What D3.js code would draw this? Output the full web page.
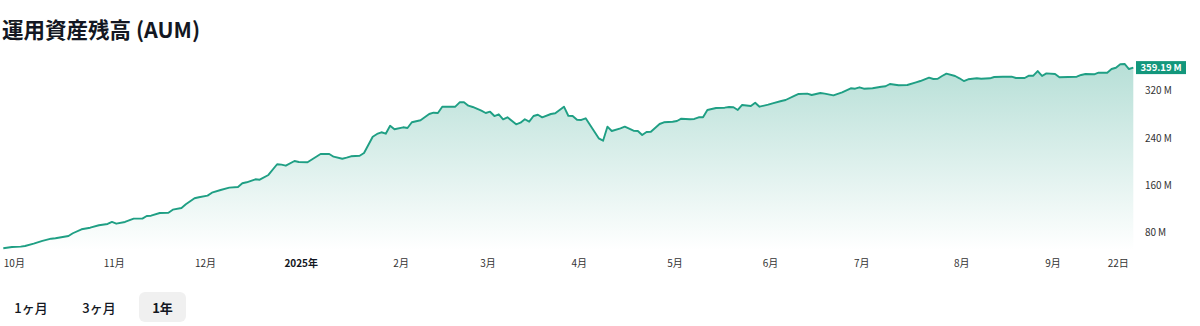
<!DOCTYPE html>
<html>
<head>
<meta charset="utf-8">
<script src="https://cdn.jsdelivr.net/npm/d3@7"></script>
<style>
  body { margin: 0; background: #fff; }
  svg { display: block; font-family: "Noto Sans CJK JP", "Noto Sans", sans-serif; }
</style>
</head>
<body>
<svg id="chart" width="1200" height="326"></svg>
<script>
// trading-day index (weekdays from 2024-09-26) and AUM in millions
const dayIndex = [0,2,4,5,7,9,11,12,15,16,18,20,22,24,25,26,28,30,32,33,34,36,38,39,41,42,44,45,47,48,50,52,54,55,56,58,59,61,63,64,65,67,68,70,72,73,75,76,78,79,80,82,83,85,86,87,88,89,90,92,93,94,96,98,99,100,101,104,105,106,107,108,110,111,112,113,114,115,116,118,119,120,121,122,123,124,126,127,129,130,131,132,133,134,137,138,139,140,142,143,145,146,147,148,149,151,152,154,155,156,158,159,160,161,162,164,166,167,168,169,170,172,173,174,176,177,179,180,182,183,185,186,188,189,191,193,194,195,196,197,198,200,202,203,204,206,208,210,211,213,214,215,216,217,219,220,221,222,224,225,227,228,230,232,233,235,236,237,238,239,240,242,243,245,247,248,249,251,252,254,255,256,257,258,259,260];
const aumM = [53.6,55.8,56.3,57.5,61.4,66.0,69.8,70.5,74.4,79.0,85.7,88.4,92.5,94.7,98.1,95.2,98.1,103.7,103.7,108.2,108.7,113.3,113.8,118.9,121.8,128.0,138.2,139.9,142.6,147.6,152.2,156.1,157.3,163.5,165.2,170.3,169.6,177.6,195.7,195.0,193.3,201.2,199.6,199.1,208.5,213.1,213.1,208.5,205.1,206.8,209.2,210.2,214.8,242.3,246.9,249.8,247.4,260.9,254.9,258.2,257.0,266.7,270.1,280.7,282.9,282.4,293.1,293.1,300.5,300.5,294.8,292.6,286.3,282.4,284.6,277.3,280.2,271.8,275.1,263.3,266.0,271.8,267.7,277.3,279.5,275.1,280.7,281.9,293.1,277.8,277.3,271.1,270.6,273.5,239.6,235.6,259.3,252.0,256.5,259.3,252.5,252.0,245.2,250.3,250.8,263.8,266.7,267.7,268.9,272.8,271.8,272.3,275.1,275.1,287.5,290.9,291.4,292.6,292.1,287.5,296.0,294.3,299.8,293.1,296.5,298.8,302.7,304.4,311.2,314.6,315.1,312.8,316.2,315.1,312.3,317.4,320.8,324.2,323.5,325.9,323.5,324.2,326.9,327.6,331.5,329.3,329.8,334.3,336.5,342.1,339.9,340.4,345.0,348.9,345.0,341.1,336.5,339.4,341.1,340.4,341.1,343.3,343.8,343.8,341.6,341.6,345.5,345.5,353.4,345.0,349.5,348.4,342.8,343.3,343.8,346.7,348.4,347.9,350.6,350.6,356.8,359.0,364.8,365.3,356.8,359.19];
const yTicks = [80, 160, 240, 320];
const lastLabel = "359.19\u2009M";
const ranges = ["1ヶ月", "3ヶ月", "1年"];
const startDate = new Date(2024, 8, 26);
const endDate = new Date(2025, 8, 25);

// weekday calendar used for the x positions
const calendar = [];
for (let d = new Date(startDate); d <= endDate; d.setDate(d.getDate() + 1)) {
  if (d.getDay() !== 0 && d.getDay() !== 6) calendar.push(new Date(d));
}

const data = dayIndex.map((i, k) => ({ i: i, v: aumM[k] }));

const svg = d3.select("#chart");
const plotLeft = 3.3, plotRight = 1133.3, plotTop = 55.3, plotBottom = 250.4;

const x = d3.scaleLinear().domain([0, calendar.length - 1]).range([plotLeft, plotRight]);
const y = d3.scaleLinear().domain([50, 380]).range([plotBottom, plotTop]);

// title
svg.append("text")
  .attr("x", 2).attr("y", 37.5)
  .attr("font-size", 21.5).attr("font-weight", 700).attr("fill", "#131722")
  .text("運用資産残高 (AUM)");

const defs = svg.append("defs");
const grad = defs.append("linearGradient")
  .attr("id", "aumFill").attr("gradientUnits", "userSpaceOnUse")
  .attr("x1", 0).attr("x2", 0).attr("y1", plotTop).attr("y2", plotBottom);
grad.append("stop").attr("offset", "0%").attr("stop-color", "#13977c").attr("stop-opacity", 0.32);
grad.append("stop").attr("offset", "100%").attr("stop-color", "#13977c").attr("stop-opacity", 0.0);

const area = d3.area().x(d => x(d.i)).y0(plotBottom).y1(d => y(d.v));
const line = d3.line().x(d => x(d.i)).y(d => y(d.v));

svg.append("path").datum(data).attr("d", area).attr("fill", "url(#aumFill)");
svg.append("path").datum(data).attr("d", line)
  .attr("fill", "none").attr("stroke", "#1f9f84").attr("stroke-width", 1.9)
  .attr("stroke-linejoin", "round");

// y labels on the right
svg.append("g").selectAll("text").data(yTicks).join("text")
  .attr("x", 1145).attr("y", d => y(d)).attr("dy", "0.35em")
  .attr("font-size", 10).attr("fill", "#333")
  .text(d => d + "\u2009M");

// last value tag
const last = data[data.length - 1];
svg.append("rect")
  .attr("x", 1136).attr("y", y(last.v) - 6.5).attr("width", 50).attr("height", 13)
  .attr("fill", "#13977c");
svg.append("text")
  .attr("x", 1161).attr("y", y(last.v)).attr("dy", "0.35em")
  .attr("text-anchor", "middle").attr("font-size", 9.5).attr("font-weight", 700)
  .attr("fill", "#fff").text(lastLabel);

// month labels at first trading day of each month
const xTicks = [];
calendar.forEach((d, i) => {
  const prev = calendar[i - 1];
  if (prev && prev.getMonth() !== d.getMonth()) {
    const isYear = d.getMonth() === 0;
    xTicks.push({ i: i, label: isYear ? d.getFullYear() + "年" : (d.getMonth() + 1) + "月", bold: isYear });
  }
});
const dayTick = calendar.findIndex(d => d.getMonth() === 8 && d.getFullYear() === 2025 && d.getDate() === 22);
xTicks.push({ i: dayTick, label: "22日", bold: false });

svg.append("g").selectAll("text").data(xTicks).join("text")
  .attr("x", d => x(d.i) - 2).attr("y", 263).attr("dy", "0.35em")
  .attr("text-anchor", "middle").attr("font-size", 10)
  .attr("font-weight", d => d.bold ? 700 : 400)
  .attr("fill", d => d.bold ? "#131722" : "#333")
  .text(d => d.label);

// range buttons
svg.append("rect")
  .attr("x", 139).attr("y", 292).attr("width", 47).attr("height", 30).attr("rx", 6)
  .attr("fill", "#f0f0f0");
const btnX = [31, 99, 162.5];
svg.append("g").selectAll("text").data(ranges).join("text")
  .attr("x", (d, k) => btnX[k]).attr("y", 308).attr("dy", "0.35em")
  .attr("text-anchor", "middle").attr("font-size", 13)
  .attr("font-weight", (d, k) => k === 2 ? 700 : 500)
  .attr("fill", "#131722")
  .text(d => d);
</script>
</body>
</html>
